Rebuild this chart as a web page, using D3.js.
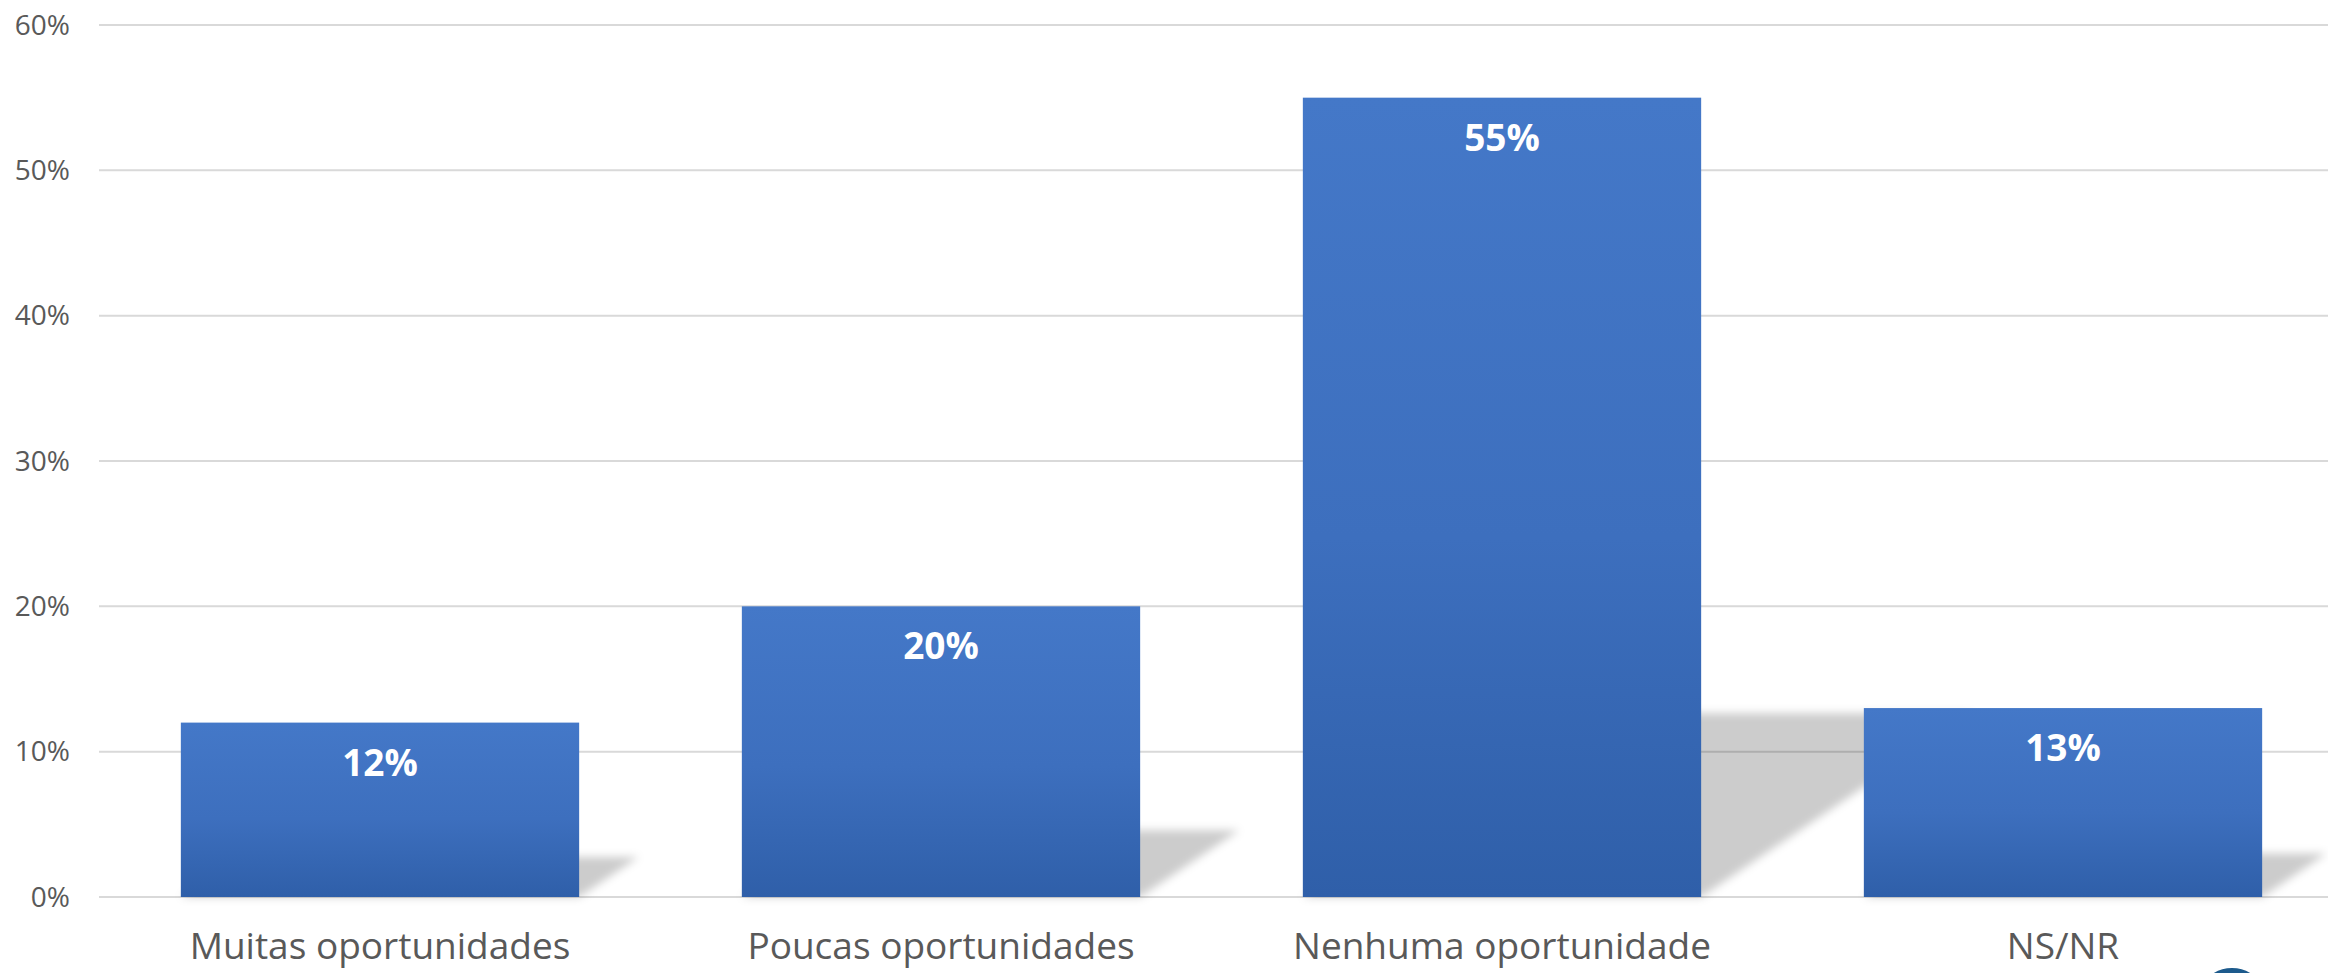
<!DOCTYPE html>
<html>
<head>
<meta charset="utf-8">
<script src="https://cdn.jsdelivr.net/npm/d3@7"></script>
<style>
  html, body { margin: 0; padding: 0; background: #fff; overflow: hidden; }
  text { font-family: "Open Sans", sans-serif; }
</style>
</head>
<body>
<div id="chart"></div>
<script>
// chart data
const categories = ["Muitas oportunidades", "Poucas oportunidades", "Nenhuma oportunidade", "NS/NR"];
const values = [12, 20, 55, 13];
const yTicks = [0, 10, 20, 30, 40, 50, 60];

const W = 2328, H = 973;
const plotLeft = 99.5, plotBase = 897, plotTop = 25;

const svg = d3.select("#chart")
    .append("svg")
    .attr("width", W)
    .attr("height", H);

const defs = svg.append("defs");
const grad = defs.append("linearGradient")
    .attr("id", "barGrad")
    .attr("x1", 0).attr("y1", 0).attr("x2", 0).attr("y2", 1);
grad.append("stop").attr("offset", "0%").attr("stop-color", "#4478c8");
grad.append("stop").attr("offset", "55%").attr("stop-color", "#3d6fbe");
grad.append("stop").attr("offset", "100%").attr("stop-color", "#2f5fa9");

defs.append("filter")
    .attr("id", "blur")
    .attr("x", "-20%").attr("y", "-20%").attr("width", "140%").attr("height", "140%")
    .append("feGaussianBlur")
    .attr("stdDeviation", 4);

// scales
const x = d3.scaleBand()
    .domain(categories)
    .range([plotLeft, plotLeft + 4 * 561])
    .paddingInner(0.29)
    .paddingOuter(0.145);

const y = d3.scaleLinear()
    .domain([0, 60])
    .range([plotBase, plotTop]);

// gridlines
svg.append("g")
    .selectAll("line")
    .data(yTicks)
    .join("line")
    .attr("x1", 99)
    .attr("x2", W)
    .attr("y1", d => y(d))
    .attr("y2", d => y(d))
    .attr("stroke", "#d9d9d9")
    .attr("stroke-width", 2);

// y axis labels
svg.append("g")
    .selectAll("text")
    .data(yTicks)
    .join("text")
    .attr("x", 70)
    .attr("y", d => y(d))
    .attr("dy", "0.35em")
    .attr("text-anchor", "end")
    .attr("fill", "#595959")
    .style("font-size", "28px")
    .text(d => d + "%");

// perspective shadows behind bars
const data = categories.map((c, i) => ({ cat: c, val: values[i] }));
svg.append("g")
    .selectAll("polygon")
    .data(data)
    .join("polygon")
    .attr("points", d => {
        const x0 = x(d.cat), x1 = x0 + x.bandwidth();
        const h = (plotBase - y(d.val)) * 0.23;
        const dx = h * 1.48;
        return [[x0, plotBase], [x1, plotBase], [x1 + dx, plotBase - h], [x0 + dx, plotBase - h]].join(" ");
    })
    .attr("fill", "#000")
    .attr("fill-opacity", 0.2)
    .attr("filter", "url(#blur)");

// bars
svg.append("g")
    .selectAll("rect")
    .data(data)
    .join("rect")
    .attr("x", d => x(d.cat))
    .attr("y", d => y(d.val))
    .attr("width", x.bandwidth())
    .attr("height", d => plotBase - y(d.val))
    .attr("fill", "url(#barGrad)");

// value labels
svg.append("g")
    .selectAll("text")
    .data(data)
    .join("text")
    .attr("x", d => x(d.cat) + x.bandwidth() / 2)
    .attr("y", d => y(d.val) + 53)
    .attr("text-anchor", "middle")
    .attr("fill", "#fff")
    .style("font-size", "37px")
    .style("font-weight", "bold")
    .text(d => d.val + "%");

// category labels
svg.append("g")
    .selectAll("text")
    .data(categories)
    .join("text")
    .attr("x", d => x(d) + x.bandwidth() / 2)
    .attr("y", 959)
    .attr("text-anchor", "middle")
    .attr("fill", "#595959")
    .style("font-size", "37px")
    .text(d => d);

// partial logo circle at bottom right
svg.append("circle")
    .attr("cx", 2232)
    .attr("cy", 1003)
    .attr("r", 32)
    .attr("fill", "none")
    .attr("stroke", "#1c5a8c")
    .attr("stroke-width", 6);
</script>
</body>
</html>
